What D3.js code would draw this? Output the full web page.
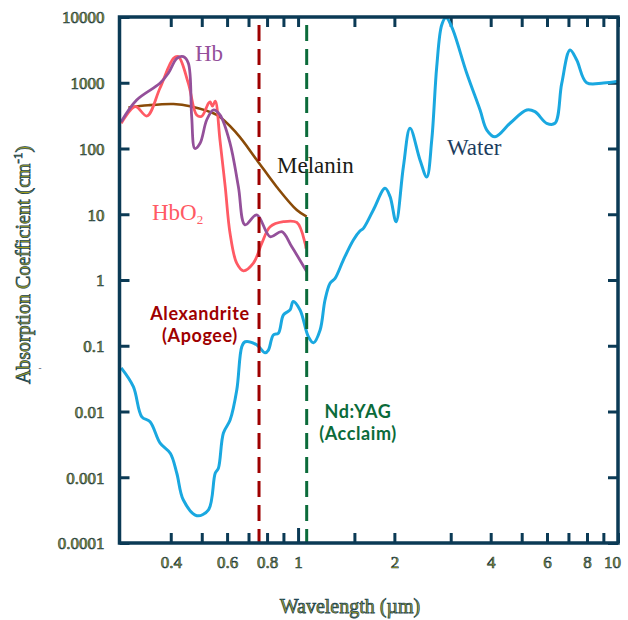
<!DOCTYPE html>
<html lang="en">
<head>
<meta charset="utf-8">
<title>Absorption spectra</title>
<script src="https://d3js.org/d3.v7.min.js"></script>
<style>
  body{margin:0;background:#fff;}
  .tl{font-family:"Liberation Serif",serif;font-size:17px;fill:#a8a41c;stroke:#17394a;stroke-width:0.65px;}
  .ttl{font-family:"Liberation Serif",serif;font-size:20px;fill:#a8a41c;stroke:#1d4656;stroke-width:0.75px;}
  .lbl{font-family:"Liberation Serif",serif;font-size:23px;}
  .laser{font-family:Lato,sans-serif;font-size:18px;font-weight:bold;letter-spacing:0.6px;}
</style>
</head>
<body>
<div id="chart"></div>
<script>
// values: [wavelength um, absorption cm-1]
var water = [[0.280,0.046],[0.3056,0.0238],[0.3248,0.0083],[0.3447,0.0070],[0.3706,0.0033],[0.399,0.0023],
  [0.4178,0.00115],[0.438,0.00045],[0.4825,0.00026],[0.5248,0.00032],[0.5508,0.00115],[0.5636,0.00137],
  [0.5843,0.0047],[0.6131,0.0074],[0.6433,0.0212],[0.667,0.097],[0.683,0.115],[0.743,0.103],[0.789,0.078],
  [0.808,0.086],[0.837,0.146],[0.868,0.155],[0.900,0.294],[0.944,0.35],[0.965,0.47],[1.0145,0.35],
  [1.077,0.137],[1.117,0.111],[1.172,0.174],[1.214,0.497],[1.259,0.89],[1.305,1.06],[1.385,2.01],
  [1.489,4.06],[1.563,5.6],[1.600,6.1],[1.719,11.6],[1.870,24.8],[1.939,18.5],[2.024,7.7],[2.134,52.8],
  [2.239,203],[2.405,67],[2.525,37],[2.617,134],[2.713,1754],[2.812,7550],[2.90,9800],[3.02,7130],
  [3.367,1393],[3.706,385],[3.89,191],[4.127,151],[4.597,242],[5.185,385],[5.5,363],[5.985,242],
  [6.35,242],[6.67,977],[7.08,3147],[7.43,2218],[7.98,1000],[9.0,990],[10,1050]];
var hbo2 = [[0.280,242],[0.31,433],[0.337,312],[0.370,825],[0.408,2355],[0.4225,2497],[0.454,977],
  [0.482,324],[0.500,310],[0.525,490],[0.531,510],[0.540,440],[0.551,525],[0.570,134],[0.592,26],
  [0.613,5.1],[0.643,1.8],[0.675,1.38],[0.725,1.8],[0.770,3.6],[0.818,6.46],[0.900,7.7],[0.991,7.5],
  [1.052,3.6],[1.059,3.0]];
var hb = [[0.280,256],[0.313,547],[0.370,982],[0.393,1393],[0.418,2355],[0.438,2497],[0.454,1977],
  [0.465,305],[0.476,100],[0.494,120],[0.518,271],[0.543,385],[0.570,324],[0.613,120],[0.651,26],
  [0.683,6.9],[0.743,9.8],[0.818,4.56],[0.889,5.43],[0.956,3.2],[1.064,1.34]];
var melanin = [[0.295,420],[0.34,455],[0.408,475],[0.46,440],[0.557,324],[0.643,170],[0.743,67],
  [0.858,26],[0.991,11.6],[1.064,9.2]];
var lasers = [{name:"Alexandrite",sub:"(Apogee)",wl:0.755},{name:"Nd:YAG",sub:"(Acclaim)",wl:1.064}];
var xTicks = [0.4,0.5,0.6,0.7,0.8,0.9,1,1.5,2,3,4,5,6,7,8,9,10];
var xLabels = [0.4,0.6,0.8,1,2,4,6,8,10];
var yTicks = [0.0001,0.001,0.01,0.1,1,10,100,1000,10000];

var W = 628, H = 620;
var L = 119.5, R = 618, T = 17, B = 543;
var navy = "#0b3a55";

var svg = d3.select("#chart").append("svg").attr("width",W).attr("height",H);

var x = d3.scaleLog().domain([0.2766,10]).range([L,R]);
var y = d3.scaleLog().domain([1e-4,1e4]).range([B,T]);

svg.append("clipPath").attr("id","clip").append("rect")
  .attr("x",L).attr("y",T).attr("width",R-L).attr("height",B-T);

// axes, ticks inward
var fmtX = function(d){ return xLabels.indexOf(d) >= 0 ? String(d) : ""; };
var gb = svg.append("g").attr("transform","translate(0,"+B+")")
  .call(d3.axisBottom(x).tickValues(xTicks).tickFormat(fmtX).tickSizeInner(-10).tickSizeOuter(0).tickPadding(13));
gb.selectAll(".tick line").attr("y2",function(d){ return d==1 ? -15 : -10; });
gb.selectAll(".tick text").filter(function(d){ return d==10; }).attr("dx","-6");
var gt = svg.append("g").attr("transform","translate(0,"+T+")")
  .call(d3.axisTop(x).tickValues(xTicks).tickFormat("").tickSizeInner(-10).tickSizeOuter(0));
var gl = svg.append("g").attr("transform","translate("+L+",0)")
  .call(d3.axisLeft(y).tickValues(yTicks).tickFormat(function(d){ return String(d); }).tickSizeInner(-10).tickSizeOuter(0).tickPadding(15));
var gr = svg.append("g").attr("transform","translate("+R+",0)")
  .call(d3.axisRight(y).tickValues(yTicks).tickFormat("").tickSizeInner(-10).tickSizeOuter(0));

[gb,gt,gl,gr].forEach(function(g){
  g.select(".domain").remove();
  g.selectAll(".tick line").attr("stroke",navy).attr("stroke-width",3);
  g.selectAll(".tick text").attr("class","tl").attr("font-family",null).attr("font-size",null).attr("fill",null);
});
gl.selectAll(".tick text").attr("dy","0.35em");

// curves
var line = d3.line().x(function(d){ return x(d[0]); }).y(function(d){ return y(d[1]); })
  .curve(d3.curveCatmullRom.alpha(0.5));
var plot = svg.append("g").attr("clip-path","url(#clip)");
plot.append("path").datum(melanin).attr("d",line).attr("fill","none").attr("stroke","#8a4b08").attr("stroke-width",2.6);
plot.append("path").datum(hbo2).attr("d",line).attr("fill","none").attr("stroke","#ff5a64").attr("stroke-width",2.8);
plot.append("path").datum(hb).attr("d",line).attr("fill","none").attr("stroke","#94509a").attr("stroke-width",2.8);
plot.append("path").datum(water).attr("d",line).attr("fill","none").attr("stroke","#1aa8e0").attr("stroke-width",3);

// laser lines
var laserCol = ["#9e0000","#0b6b3a"];
svg.selectAll(".laserline").data(lasers).enter().append("line")
  .attr("x1",function(d){ return x(d.wl); }).attr("x2",function(d){ return x(d.wl); })
  .attr("y1",T+2).attr("y2",B)
  .attr("stroke",function(d,i){ return laserCol[i]; })
  .attr("stroke-width",3).attr("stroke-dasharray","16,8").attr("stroke-dashoffset",-6);

// frame
svg.append("rect").attr("x",L).attr("y",T).attr("width",R-L).attr("height",B-T)
  .attr("fill","none").attr("stroke",navy).attr("stroke-width",3.5);

// curve labels
svg.append("text").attr("class","lbl").attr("x",195).attr("y",61).attr("fill","#94509a").text("Hb");
svg.append("text").attr("class","lbl").attr("x",277).attr("y",173).attr("fill","#1a1a14").text("Melanin");
var t2 = svg.append("text").attr("class","lbl").attr("x",152).attr("y",220).attr("fill","#ff5a64");
t2.append("tspan").text("HbO");
t2.append("tspan").attr("font-size","13px").attr("dy","4").text("2");
svg.append("text").attr("class","lbl").attr("x",447).attr("y",155).attr("fill","#1d3d5e").text("Water");

// laser labels
var lpos = [[200,320,342],[358,418,440]];
lasers.forEach(function(d,i){
  svg.append("text").attr("class","laser").attr("x",lpos[i][0]).attr("y",lpos[i][1])
    .attr("text-anchor","middle").attr("fill",laserCol[i]).text(d.name);
  svg.append("text").attr("class","laser").attr("x",lpos[i][0]).attr("y",lpos[i][2])
    .attr("text-anchor","middle").attr("fill",laserCol[i]).text(d.sub);
});

// axis titles
var yt = svg.append("text").attr("class","ttl").attr("text-anchor","middle")
  .attr("transform","translate(30,265) rotate(-90)");
yt.append("tspan").text("Absorption Coefficient (cm");
yt.append("tspan").attr("font-size","13px").attr("dy","-8").text("-1");
yt.append("tspan").attr("dy","8").text(")");
svg.append("text").attr("x",40).attr("y",371).attr("text-anchor","middle")
  .attr("font-size","9px").attr("fill","#445").text("-");
svg.append("text").attr("class","ttl").attr("x",350).attr("y",613).attr("text-anchor","middle")
  .text("Wavelength (\u00b5m)");
</script>
</body>
</html>
